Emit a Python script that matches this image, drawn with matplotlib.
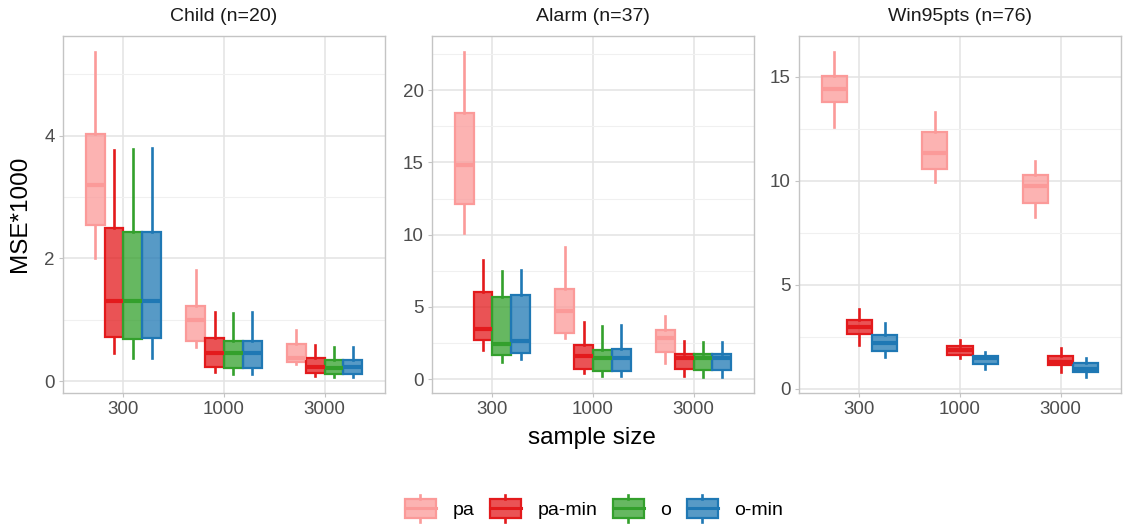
import numpy as np
import matplotlib
matplotlib.use("Agg")
import matplotlib.pyplot as plt
from matplotlib.colors import to_rgba
from matplotlib.patches import Rectangle
from matplotlib.lines import Line2D
from matplotlib.legend_handler import HandlerBase

plt.rcParams['font.family'] = ['Liberation Sans', 'DejaVu Sans']

# =============================================================
# DATA  (box stats per sample size: whisker low, Q1, median, Q3, whisker high)
# =============================================================

sample_sizes = ["300", "1000", "3000"]
methods = ["pa", "pa-min", "o", "o-min"]
method_colors = ["#FB9A99", "#E31A1C", "#33A02C", "#1F78B4"]

child_pa = [[2.01, 2.55, 3.19, 4.02, 5.36], [0.55, 0.65, 0.99, 1.22, 1.81], [0.28, 0.31, 0.38, 0.61, 0.83]]
child_pa_min = [[0.45, 0.72, 1.30, 2.50, 3.76], [0.15, 0.23, 0.46, 0.70, 1.13], [0.08, 0.13, 0.23, 0.38, 0.59]]
child_o = [[0.38, 0.68, 1.30, 2.43, 3.78], [0.12, 0.21, 0.46, 0.66, 1.11], [0.07, 0.11, 0.22, 0.34, 0.56]]
child_o_min = [[0.38, 0.71, 1.31, 2.43, 3.80], [0.12, 0.21, 0.46, 0.66, 1.12], [0.07, 0.11, 0.23, 0.34, 0.56]]

alarm_pa = [[10.09, 12.14, 14.79, 18.41, 22.63], [2.86, 3.16, 4.70, 6.25, 9.15], [1.13, 1.87, 2.86, 3.39, 4.35]]
alarm_pa_min = [[2.00, 2.70, 3.48, 6.01, 8.27], [0.39, 0.67, 1.59, 2.33, 3.94], [0.21, 0.67, 1.43, 1.75, 2.63]]
alarm_o = [[1.20, 1.64, 2.45, 5.69, 7.49], [0.21, 0.53, 1.48, 2.00, 3.66], [0.16, 0.62, 1.43, 1.71, 2.56]]
alarm_o_min = [[1.36, 1.82, 2.67, 5.85, 7.58], [0.21, 0.53, 1.48, 2.10, 3.73], [0.16, 0.62, 1.43, 1.71, 2.56]]

win95_pa = [[12.59, 13.80, 14.41, 15.05, 16.19], [9.95, 10.58, 11.34, 12.35, 13.33], [8.27, 8.94, 9.74, 10.30, 10.97]]
win95_pa_min = [[2.10, 2.64, 2.95, 3.30, 3.86], [1.47, 1.62, 1.86, 2.06, 2.35], [0.83, 1.14, 1.27, 1.58, 1.95]]
win95_o_min = [[1.51, 1.82, 2.19, 2.58, 3.15], [0.95, 1.19, 1.46, 1.58, 1.79], [0.58, 0.83, 0.95, 1.25, 1.46]]

facets = [
    ("Child (n=20)", {"pa": child_pa, "pa-min": child_pa_min, "o": child_o, "o-min": child_o_min},
     [0, 2, 4], [1, 3, 5]),
    ("Alarm (n=37)", {"pa": alarm_pa, "pa-min": alarm_pa_min, "o": alarm_o, "o-min": alarm_o_min},
     [0, 5, 10, 15, 20], [2.5, 7.5, 12.5, 17.5, 22.5]),
    ("Win95pts (n=76)", {"pa": win95_pa, "pa-min": win95_pa_min, "o-min": win95_o_min},
     [0, 5, 10, 15], [2.5, 7.5, 12.5]),
]

# =============================================================
# STYLE
# =============================================================

W, H = 1126, 525
BORDER = "#C4C4C4"
GRID_MAJOR = "#E3E3E3"
GRID_MINOR = "#F0F0F0"
TEXT_GREY = "#4D4D4D"
FILL_ALPHA = 0.75


def draw_panel(ax, data, yticks, yminor):
    present = [m for m in methods if m in data]
    w = 0.75 / len(present)
    x = np.arange(1, len(sample_sizes) + 1)
    all_vals = []
    for j, m in enumerate(present):
        c = method_colors[methods.index(m)]
        stats = [dict(whislo=s[0], q1=s[1], med=s[2], q3=s[3], whishi=s[4], fliers=[])
                 for s in data[m]]
        all_vals += [v for s in data[m] for v in s]
        ax.bxp(stats, positions=x - 0.375 + w * (j + 0.5), widths=w,
               patch_artist=True, showcaps=False, showfliers=False, manage_ticks=False,
               boxprops=dict(facecolor=to_rgba(c, FILL_ALPHA), edgecolor=c, linewidth=1.6),
               whiskerprops=dict(color=c, linewidth=1.9),
               medianprops=dict(color=c, linewidth=3.0, solid_capstyle="butt"))

    lo, hi = min(all_vals), max(all_vals)
    pad = 0.05 * (hi - lo)
    ax.set_ylim(lo - pad, hi + pad)
    ax.set_xlim(0.4, len(sample_sizes) + 0.6)

    ax.set_xticks(x)
    ax.set_xticklabels(sample_sizes)
    ax.set_yticks(yticks)
    ax.set_yticks(yminor, minor=True)
    ax.grid(which="major", color=GRID_MAJOR, linewidth=1.1)
    ax.grid(which="minor", axis="y", color=GRID_MINOR, linewidth=0.8)
    ax.set_axisbelow(True)

    ax.tick_params(which="major", length=3, width=0.8, color=BORDER,
                   labelsize=13.5, labelcolor=TEXT_GREY, pad=3)
    ax.tick_params(which="minor", length=0)
    for sp in ax.spines.values():
        sp.set_color(BORDER)
        sp.set_linewidth(1.0)


class BoxKey(HandlerBase):
    def create_artists(self, legend, orig_handle, xdescent, ydescent,
                       width, height, fontsize, trans):
        c = orig_handle.get_color()
        x0, y0 = -xdescent, -ydescent
        ext = 0.22 * height
        cx = x0 + width / 2
        top = Line2D([cx, cx], [y0 + height, y0 + height + ext], color=c, lw=1.9, transform=trans)
        bot = Line2D([cx, cx], [y0 - ext, y0], color=c, lw=1.9, transform=trans)
        rect = Rectangle((x0, y0), width, height, facecolor=to_rgba(c, FILL_ALPHA),
                         edgecolor=c, lw=1.6, transform=trans)
        mid = Line2D([x0, x0 + width], [y0 + height / 2] * 2, color=c, lw=2.2, transform=trans)
        return [top, bot, rect, mid]


# =============================================================
# PLOT
# =============================================================

fig = plt.figure(figsize=(W / 100, H / 100), dpi=100)

panel_left = [63, 432, 799]
panel_w = 322
panel_top, panel_bottom = 36, 393

for (title, data, yticks, yminor), left in zip(facets, panel_left):
    ax = fig.add_axes([left / W, 1 - panel_bottom / H, panel_w / W, (panel_bottom - panel_top) / H])
    draw_panel(ax, data, yticks, yminor)
    ax.text(0.5, 1 + (panel_top - 17) / (panel_bottom - panel_top), title,
            transform=ax.transAxes, ha="center", va="center", fontsize=14, color="#1A1A1A")

fig.text(20 / W, 1 - 214 / H, "MSE*1000", rotation=90, ha="center", va="center",
         fontsize=17.5, color="black")
fig.text(592 / W, 1 - 438 / H, "sample size", ha="center", va="center",
         fontsize=17.5, color="black")

handles = [Line2D([], [], color=c) for c in method_colors]
fig.legend(handles, methods, handler_map={Line2D: BoxKey()},
           loc="center", bbox_to_anchor=(594 / W, 1 - 509 / H), ncol=4, frameon=False,
           fontsize=14, handlelength=1.6, handleheight=1.1, handletextpad=0.85,
           columnspacing=0.8, borderpad=0)

fig.savefig("out.png", dpi=100)
